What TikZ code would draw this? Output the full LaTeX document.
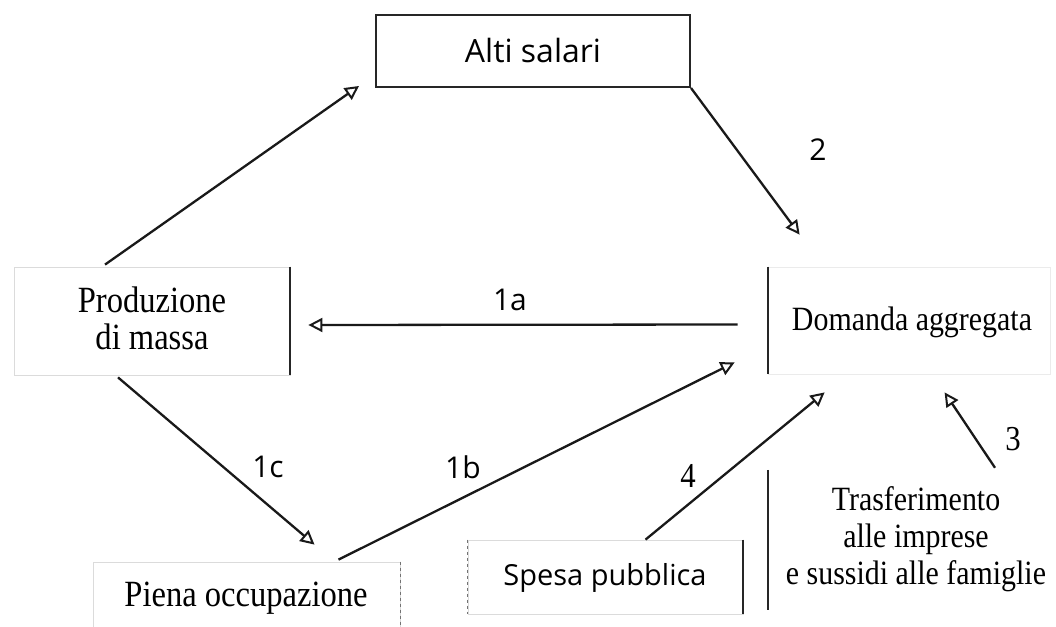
\documentclass[tikz,border=0pt]{standalone}
\usepackage{fontspec}
\setmainfont{Liberation Serif}
\newfontfamily\condserif[FakeStretch=0.88]{Liberation Serif}
\newfontfamily\labelsans{Open Sans}
\usetikzlibrary{arrows.meta,calc}

\tikzset{
  serifnode/.style={font=\condserif\fontsize{34}{37}\selectfont, align=center, inner sep=0pt},
  serifbig/.style={font=\condserif\fontsize{37}{37}\selectfont, align=center, inner sep=0pt},
  sansnode/.style={font=\labelsans\fontsize{29}{35}\selectfont, inner sep=0pt},
  numlabel/.style={font=\labelsans\fontsize{30}{35}\selectfont, inner sep=0pt},
  numserif/.style={font=\condserif\fontsize{35}{35}\selectfont, inner sep=0pt},
  boxarea/.style={draw=black!14, line width=0.8pt, inner sep=0pt},
  strongedge/.style={draw=black!85, line width=2pt},
  arr/.style={draw=black!90, line width=2.3pt,
    -{Triangle[open, length=14pt, width=14pt, line width=2pt]}}
}

\begin{document}
\begin{tikzpicture}[x=1pt, y=-1pt]
\useasboundingbox (0,0) rectangle (1056,626);

% --- boxes ---
\node[draw=black!85, line width=2pt, minimum width=314pt, minimum height=72pt, inner sep=0pt] (alti) at (533,51) {};
\node[boxarea, minimum width=276pt, minimum height=108pt] (prod) at (152,321) {};
\node[boxarea, draw=black!8, minimum width=282pt, minimum height=107pt] (dom) at (909,320.5) {};
\node[boxarea, minimum width=307pt, minimum height=66pt] (piena) at (246.5,595) {};
\node[boxarea, minimum width=275pt, minimum height=74pt] (spesa) at (605.5,577) {};
\node[minimum width=282pt, minimum height=140pt, inner sep=0pt] (trasf) at (909,540) {};

% visible edges of the boxes
\draw[strongedge] (prod.north east) -- (prod.south east);
\draw[strongedge] (dom.north west) -- (dom.south west);
\draw[draw=black!55, line width=1.4pt, dashed] (piena.north east) -- (piena.south east);
\draw[draw=black!55, line width=1.4pt, dashed] (spesa.north west) -- (spesa.south west);
\draw[strongedge] (spesa.north east) -- (spesa.south east);
\draw[strongedge] (trasf.north west) -- (trasf.south west);

% --- texts ---
\node[sansnode, font=\labelsans\fontsize{32}{35}\selectfont] (altitxt) at (alti.center) {Alti salari};
\node[serifbig] (prodtxt) at (152,318) {Produzione\\di massa};
\node[serifnode] (domtxt) at (912,322) {Domanda aggregata};
\node[serifbig] (pienatxt) at (246,598) {Piena occupazione};
\node[sansnode] (spesatxt) at (605,578) {Spesa pubblica};
\node[serifnode] (trasftxt) at (916,539) {Trasferimento\\alle imprese\\e sussidi alle famiglie};

% --- arrow ends ---
\coordinate (c-prod-up) at ($(prod.north)+(-47,-2)$);
\coordinate (c-alti-in) at ($(alti.south west)+(-16,-2)$);
\coordinate (c-alti-out) at ($(alti.south east)+(0,0)$);
\coordinate (c-dom-top) at ($(dom.north west)+(32,-32)$);
\coordinate (c-dom-left) at ($(dom.west)+(-30,4)$);
\coordinate (c-prod-right) at ($(prod.east)+(18,4)$);
\coordinate (c-prod-down) at ($(prod.south)+(-34,2)$);
\coordinate (c-piena-in) at ($(piena.north)+(68,-17)$);
\coordinate (c-piena-out) at ($(piena.north)+(92,-2)$);
\coordinate (c-dom-b1) at ($(dom.south west)+(-33,-12)$);
\coordinate (c-spesa-out) at ($(spesa.north)+(40,0)$);
\coordinate (c-dom-b2) at ($(dom.south west)+(57,18)$);
\coordinate (c-trasf-out) at ($(trasf.north)+(86,-2)$);
\coordinate (c-dom-b3) at ($(dom.south west)+(177,18)$);

% --- connectors ---
\draw[arr] (c-prod-up) -- (c-alti-in);
\draw[arr] (c-alti-out) -- (c-dom-top);
\draw[arr] (c-dom-left) -- (c-prod-right);
\draw[arr] (c-prod-down) -- (c-piena-in);
\draw[arr] (c-piena-out) -- (c-dom-b1);
\draw[arr] (c-spesa-out) -- (c-dom-b2);
\draw[arr] (c-trasf-out) -- (c-dom-b3);

% --- connector labels ---
\node[numlabel] (l2) at (818,150) {2};
\node[numlabel] (l1a) at (510,300) {1a};
\node[numlabel] (l1c) at (268,467) {1c};
\node[numlabel] (l1b) at (463,467) {1b};
\node[numserif] (l4) at (688,476) {4};
\node[numserif] (l3) at (1013,439) {3};
\end{tikzpicture}
\end{document}
